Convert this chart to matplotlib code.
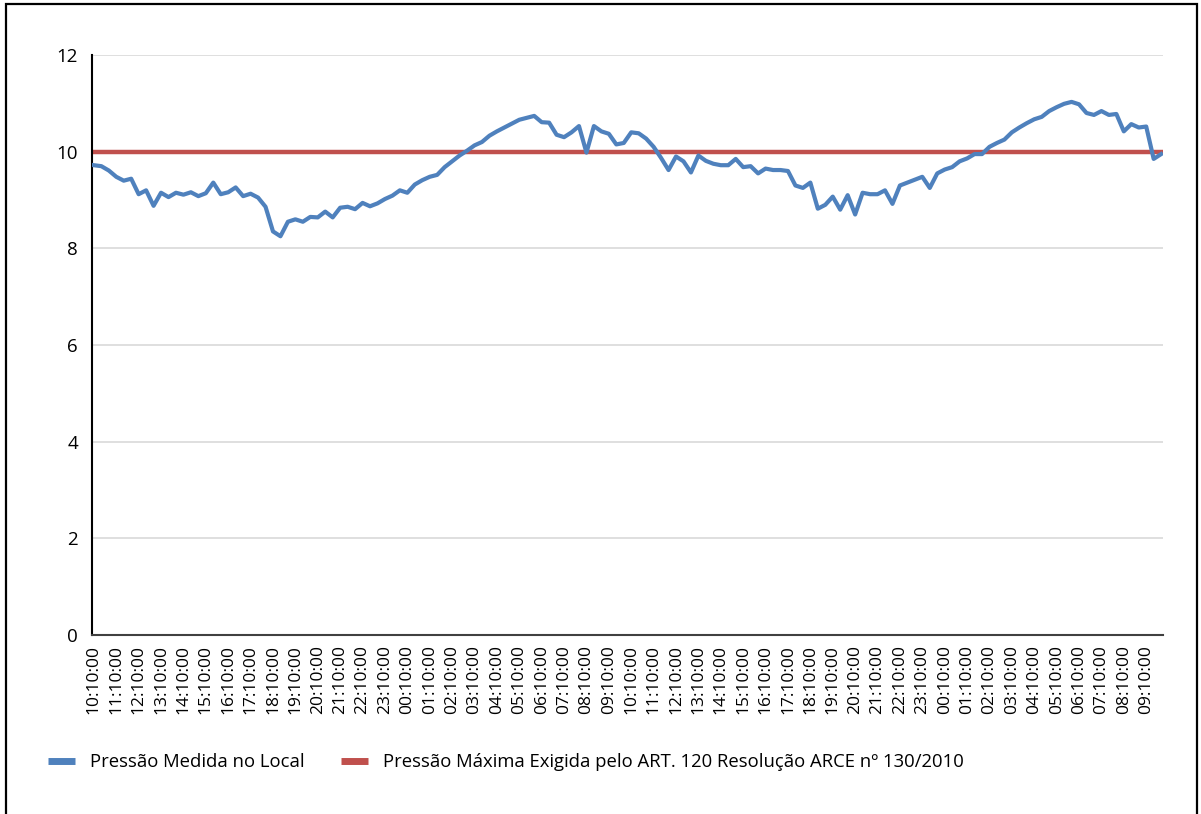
import numpy as np
import matplotlib
matplotlib.use("Agg")
import matplotlib.pyplot as plt
from matplotlib.lines import Line2D
from matplotlib.patches import Rectangle

plt.rcParams['font.family'] = ['Open Sans', 'DejaVu Sans']

# pressure readings every 20 minutes starting 10:10:00 (index in 10-min steps)
pressao = [
    9.72, 9.70, 9.61, 9.48, 9.40, 9.44, 9.12, 9.20, 8.88, 9.15,
    9.06, 9.15, 9.11, 9.16, 9.08, 9.14, 9.36, 9.12, 9.16, 9.26,
    9.08, 9.13, 9.05, 8.86, 8.35, 8.25, 8.55, 8.60, 8.55, 8.65,
    8.64, 8.76, 8.64, 8.84, 8.86, 8.81, 8.94, 8.87, 8.93, 9.02,
    9.09, 9.20, 9.15, 9.32, 9.41, 9.48, 9.52, 9.68, 9.80, 9.92,
    10.02, 10.13, 10.20, 10.33, 10.42, 10.50, 10.58, 10.66, 10.70, 10.74,
    10.61, 10.60, 10.35, 10.30, 10.40, 10.53, 9.98, 10.53, 10.42, 10.37,
    10.15, 10.18, 10.40, 10.38, 10.27, 10.10, 9.87, 9.62, 9.90, 9.80,
    9.57, 9.92, 9.81, 9.75, 9.72, 9.72, 9.85, 9.68, 9.70, 9.55,
    9.65, 9.62, 9.62, 9.60, 9.30, 9.25, 9.36, 8.82, 8.90, 9.07,
    8.80, 9.10, 8.70, 9.15, 9.12, 9.12, 9.20, 8.92, 9.30, 9.36,
    9.42, 9.48, 9.25, 9.55, 9.63, 9.68, 9.80, 9.86, 9.95, 9.95,
    10.10, 10.18, 10.25, 10.40, 10.50, 10.59, 10.67, 10.72, 10.84, 10.92,
    10.99, 11.03, 10.98, 10.80, 10.76, 10.84, 10.76, 10.78, 10.42, 10.57,
    10.50, 10.52, 9.85, 9.95,
]
pressao_max = 10
n_steps = 287  # 10-minute categories from 10:10 to 09:50
horas = list(range(10, 24)) + list(range(0, 24)) + list(range(0, 10))
tick_labels = [f"{h:02d}:10:00" for h in horas]

label_medida = 'Pressão Medida no Local'
label_max = 'Pressão Máxima Exigida pelo ART. 120 Resolução ARCE nº 130/2010'

x = np.arange(len(pressao)) * 2

fig = plt.figure(figsize=(12.01, 8.14), dpi=100)
ax = fig.add_axes([92 / 1201, 1 - 635 / 814, (1163 - 92) / 1201, (635 - 55) / 814])

ax.plot([-0.5, n_steps - 0.5], [pressao_max, pressao_max], color='#c0504d', lw=3.2,
        solid_capstyle='butt', zorder=2)
ax.plot(x, pressao, color='#4f81bd', lw=3.0, zorder=3)

ax.set_xlim(-0.5, n_steps - 0.5)
ax.set_ylim(0, 12)
ax.set_yticks(range(0, 13, 2))
ax.set_xticks(np.arange(len(tick_labels)) * 6)
ax.set_xticklabels(tick_labels, rotation=90, fontsize=12.5)
ax.tick_params(axis='x', length=0, pad=7)
ax.tick_params(axis='y', length=0, pad=10, labelsize=13.5)
ax.grid(axis='y', color='#d9d9d9', lw=1.2)
ax.set_axisbelow(True)
for s in ['top', 'right']:
    ax.spines[s].set_visible(False)
ax.spines['left'].set_color('black')
ax.spines['bottom'].set_color('#404040')
ax.spines['left'].set_linewidth(1.5)
ax.spines['bottom'].set_linewidth(1.5)

handles = [Line2D([], [], color='#4f81bd', lw=5, solid_capstyle='butt'),
           Line2D([], [], color='#c0504d', lw=5, solid_capstyle='butt')]
fig.legend(handles, [label_medida, label_max], loc='center left',
           bbox_to_anchor=(48 / 1201, 1 - 762 / 814), ncol=2, frameon=False,
           fontsize=13.3, handlelength=1.45, handletextpad=0.8, columnspacing=2.0,
           borderpad=0, borderaxespad=0)

fig.add_artist(Rectangle((6 / 1201, -0.1), (1197 - 6) / 1201, 1.1 - 4 / 814,
                         transform=fig.transFigure, fill=False, edgecolor='black', lw=1.6))

fig.savefig('out.png', dpi=100)
